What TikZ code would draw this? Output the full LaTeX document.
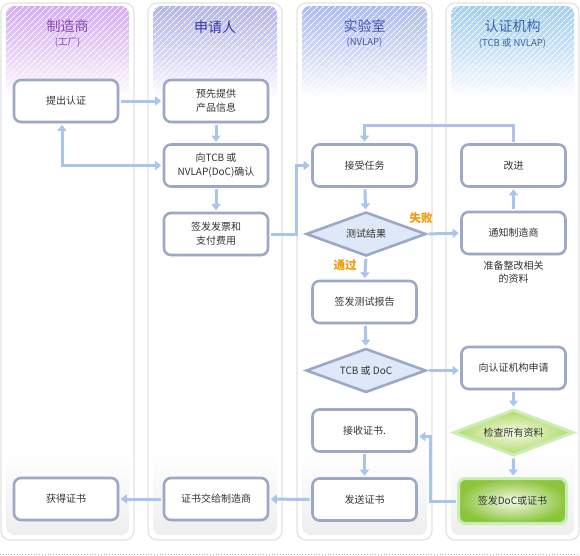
\documentclass[tikz,border=0pt]{standalone}
\usepackage{fontspec}
\setmainfont{Noto Sans CJK SC}
\usetikzlibrary{shapes.geometric,arrows.meta,shadows,patterns.meta}
\definecolor{lanebd}{HTML}{E2E2E2}
\definecolor{lanebot}{HTML}{EEEEEE}
\definecolor{boxbd}{HTML}{9BA9C6}
\definecolor{arrc}{HTML}{A9C5EE}
\definecolor{diafill}{HTML}{DEE8F8}
\definecolor{orng}{HTML}{F39A0E}
\definecolor{txt}{HTML}{333333}
\definecolor{hA}{HTML}{D6AEEE}
\definecolor{hB}{HTML}{B4B4EE}
\definecolor{hC}{HTML}{AEBCEC}
\definecolor{hD}{HTML}{A4CEF2}
\definecolor{tA}{HTML}{8A48B0}
\definecolor{tB}{HTML}{3A3AA0}
\definecolor{tC}{HTML}{4656A6}
\definecolor{tD}{HTML}{3666A6}
\definecolor{gbd}{HTML}{C9EEB4}
\definecolor{gout}{HTML}{8CC43C}
\definecolor{gin}{HTML}{F4FAE6}
\definecolor{gdout}{HTML}{B2D866}
\tikzset{
  lane/.style={draw=lanebd, line width=1.2pt, rounded corners=9pt, fill=white},
  ttl/.style={font=\fontsize{14}{16}\selectfont},
  subttl/.style={font=\fontsize{9.5}{11}\selectfont},
  stepbox/.style={draw=boxbd, line width=2.6pt, rounded corners=7pt, fill=white,
    minimum width=104pt, minimum height=42pt, align=center, text=txt,
    font=\fontsize{10}{14}\selectfont,
    drop shadow={shadow xshift=1pt, shadow yshift=-1.5pt, opacity=0.12}},
  decide/.style={diamond, aspect=2.6, draw=boxbd, line width=2.6pt, fill=diafill,
    minimum width=120pt, minimum height=44pt, inner sep=0pt, text=txt,
    font=\fontsize{10}{14}\selectfont},
  gdecide/.style={diamond, aspect=2.5, draw=gbd, line width=3pt,
    inner color=gin, outer color=gdout,
    minimum width=120pt, minimum height=46pt, inner sep=0pt, text=txt,
    font=\fontsize{10}{14}\selectfont},
  gbox/.style={draw=gbd, line width=3pt, rounded corners=7pt,
    inner color=gin, outer color=gout,
    minimum width=108pt, minimum height=45pt, text=txt,
    font=\fontsize{10}{14}\selectfont},
  arr/.style={draw=arrc, line width=3pt, -{Triangle[width=9pt,length=6pt]},
    shorten >=1.5pt, shorten <=1.5pt},
  lbl/.style={text=orng, font=\fontsize{11.5}{13}\bfseries\selectfont},
  note/.style={text=txt, align=center, font=\fontsize{10}{13}\selectfont}
}
\begin{document}
\begin{tikzpicture}[x=1pt,y=-1pt]
\useasboundingbox (0,0) rectangle (580,555);
% lanes
\foreach \xa/\xb/\hc in {1/134/hA,148/282/hB,297/432/hC,446/579/hD}{
  \draw[lane] (\xa,3) rectangle (\xb,540);
  \shade[rounded corners=8pt, top color=white, bottom color=lanebot] (\xa+5,452) rectangle (\xb-5,535);
  \shade[rounded corners=8pt, top color=\hc, bottom color=white, middle color=\hc!55!white] (\xa+5,6) rectangle (\xb-5,98);
  \fill[rounded corners=8pt, pattern={Lines[angle=45,distance=4pt,line width=0.8pt]}, pattern color=white] (\xa+5,6) rectangle (\xb-5,98);
}
\draw[gray!60, line width=0.8pt, dotted] (0,554) -- (580,554);
% titles
\node[ttl, text=tA] (ta) at (67.5,26) {制造商};
\node[subttl, text=tA] (tas) at (67.5,43) {(工厂)};
\node[ttl, text=tB] (tb) at (215,27) {申请人};
\node[ttl, text=tC] (tc) at (364.5,26) {实验室};
\node[subttl, text=tC] (tcs) at (364.5,43) {(NVLAP)};
\node[ttl, text=tD] (td) at (512.5,26) {认证机构};
\node[subttl, text=tD] (tds) at (512.5,43) {(TCB 或 NVLAP)};
% boxes
\node[stepbox] (tichu) at (66,101) {提出认证};
\node[stepbox] (yuxian) at (216,101) {预先提供\\产品信息};
\node[stepbox] (queren) at (216,165.5) {向TCB 或\\NVLAP(DoC)确认};
\node[stepbox] (fapiao) at (216,234) {签发发票和\\支付费用};
\node[stepbox] (jieshou) at (364.5,165.5) {接受任务};
\node[decide] (ceshi) at (366,234) {测试结果};
\node[stepbox] (gaijin) at (513.5,165.5) {改进};
\node[stepbox] (tongzhi) at (513.5,233) {通知制造商};
\node[note] (zhunbei) at (513.5,272) {准备整改相关\\的资料};
\node[stepbox] (baogao) at (364.5,302) {签发测试报告};
\node[decide] (tcb) at (366,370.5) {TCB 或 DoC};
\node[stepbox] (shenqing) at (513.5,368) {向认证机构申请};
\node[gdecide] (jiancha) at (513.5,432.5) {检查所有资料};
\node[gbox] (qianfa) at (512.5,501) {签发DoC或证书};
\node[stepbox] (jieshou2) at (364.5,430.5) {接收证书.};
\node[stepbox] (fasong) at (364.5,499.5) {发送证书};
\node[stepbox] (jiaogei) at (216,499) {证书交给制造商};
\node[stepbox] (huode) at (66,499) {获得证书};
\node[lbl] (shibai) at (421,218) {失败};
\node[lbl] (tongguo) at (345,265) {通过};
% connectors
\draw[arr] (tichu) -- (yuxian);
\draw[arr] (yuxian) -- (queren);
\draw[arr, {Triangle[width=9pt,length=6pt]}-{Triangle[width=9pt,length=6pt]}] ([xshift=-4pt]tichu.south) |- (queren.west);
\draw[arr] (queren) -- (fapiao);
\draw[arr] (fapiao.east) -- ++(27,0) |- (jieshou.west);
\draw[arr] (gaijin.north) -- ++(0,-18) -| (jieshou.north);
\draw[arr] (jieshou) -- (ceshi);
\draw[arr] (ceshi.east) -- (tongzhi.west);
\draw[arr] (tongzhi) -- (gaijin);
\draw[arr] (ceshi.south) -- (baogao.north);
\draw[arr] (baogao) -- (tcb.north);
\draw[arr] (tcb.east) -- (tcb.east -| shenqing.west);
\draw[arr] (shenqing) -- (jiancha.north);
\draw[arr] (jiancha.south) -- (qianfa);
\draw[arr] (qianfa.west) -- ++(-27,0) |- ([yshift=-6pt]jieshou2.east);
\draw[arr] (jieshou2) -- (fasong);
\draw[arr] (fasong) -- (jiaogei);
\draw[arr] (jiaogei) -- (huode);
\end{tikzpicture}
\end{document}
